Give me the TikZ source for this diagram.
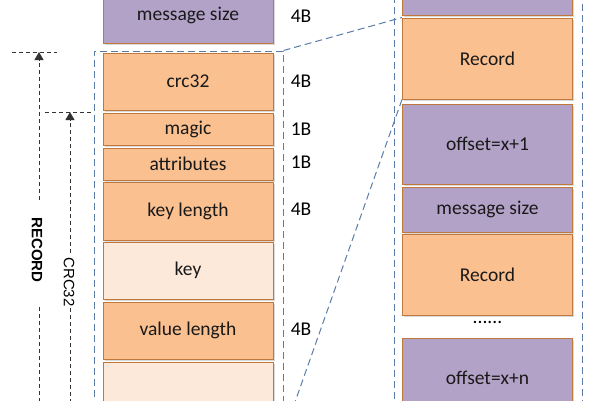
\documentclass[tikz,border=0pt]{standalone}
\usepackage{fontspec}
\setmainfont{Carlito}
\newfontfamily\sidefont{Liberation Sans}
\usetikzlibrary{arrows.meta,shadows}
\definecolor{recorange}{HTML}{FAC090}
\definecolor{recpale}{HTML}{FDE9D9}
\definecolor{recpurple}{HTML}{B3A2C7}
\definecolor{recedge}{HTML}{C0783C}
\definecolor{frameblue}{HTML}{5A7CA6}
\tikzset{
  field/.style={draw=recedge, line width=1pt, minimum width=170pt, inner sep=0pt,
    font=\fontsize{19.5}{21}\selectfont, text=black!90,
    drop shadow={shadow xshift=1.5pt, shadow yshift=-1.5pt, opacity=0.3}},
  hot/.style={field, fill=recorange},
  pale/.style={field, fill=recpale},
  meta/.style={field, fill=recpurple},
  size/.style={font=\fontsize{19.5}{21}\selectfont, text=black},
  zoomline/.style={draw=frameblue, line width=1pt, dash pattern=on 7pt off 4pt},
  span/.style={black!80, line width=1pt, dash pattern=on 4pt off 3pt},
  spanlabel/.style={rotate=-90, font=\sidefont\fontsize{15}{16}\selectfont}
}
\begin{document}
\begin{tikzpicture}[x=1pt, y=-1pt]
  \useasboundingbox (0,0) rectangle (600,400);
  \clip (0,0) rectangle (600,400);

  % record fields
  \node[meta, minimum height=56pt] (msize) at (188,15) {message size};
  \node[hot, minimum height=57pt] (crc) at (188,81.5) {crc32};
  \node[hot, minimum height=32pt] (magic) at (188,129) {magic};
  \node[hot, minimum height=32pt] (attr) at (188,164) {attributes};
  \node[hot, minimum height=58pt] (klen) at (188,211) {key length};
  \node[pale, minimum height=57pt] (key) at (188,270.5) {key};
  \node[hot, minimum height=57pt] (vlen) at (188,330.5) {value length};
  \node[pale, minimum height=78pt] (value) at (188,401) {};

  \node[size] at (301,16) {4B};
  \node[size] at (301,81) {4B};
  \node[size] at (301,129) {1B};
  \node[size] at (301,162) {1B};
  \node[size] at (301,209) {4B};
  \node[size] at (301,329) {4B};

  % log entries
  \node[meta, minimum height=45pt] (msize0) at (487.5,-7.5) {};
  \node[size, text=black!90] at (487.5,-9.5) {message size};
  \node[hot, minimum height=81pt] (rec1) at (487.5,58.5) {Record};
  \node[meta, minimum height=80pt] (off1) at (487.5,144) {offset=x+1};
  \node[meta, minimum height=45pt] (msize1) at (487.5,209.5) {message size};
  \node[hot, minimum height=81pt] (rec2) at (487.5,274.5) {Record};
  \node[size] (dots) at (487.5,322) {......};
  \node[meta, minimum height=80pt] (offn) at (487.5,378) {offset=x+n};

  % frames
  \node[zoomline, minimum width=189pt, minimum height=383pt, inner sep=0pt] (recframe) at (188.5,242.5) {};
  \node[zoomline, minimum width=188pt, minimum height=490pt, inner sep=0pt] (logframe) at (488,205) {};
  \draw[zoomline] (recframe.north east) -- (rec1.north west);
  \draw[zoomline] (rec1.south west) -- (recframe.south east);

  % spans
  \coordinate (recordtop) at (39,52);
  \coordinate (crctop) at (70,112);
  \draw[span] (12,52) -- (57,52);
  \draw[span, -{Triangle[length=8pt,width=9pt]}] (39,200) -- (recordtop);
  \draw[span] (39,307) -- (39,410);
  \node[spanlabel, font=\sidefont\bfseries\fontsize{15}{16}\selectfont] (recordlabel) at (37,250) {RECORD};
  \draw[span] (45,112) -- (93,112);
  \draw[span, -{Triangle[length=8pt,width=9pt]}] (70,253) -- (crctop);
  \draw[span] (70,308) -- (70,410);
  \node[spanlabel] (crclabel) at (69,282) {CRC32};
\end{tikzpicture}
\end{document}
